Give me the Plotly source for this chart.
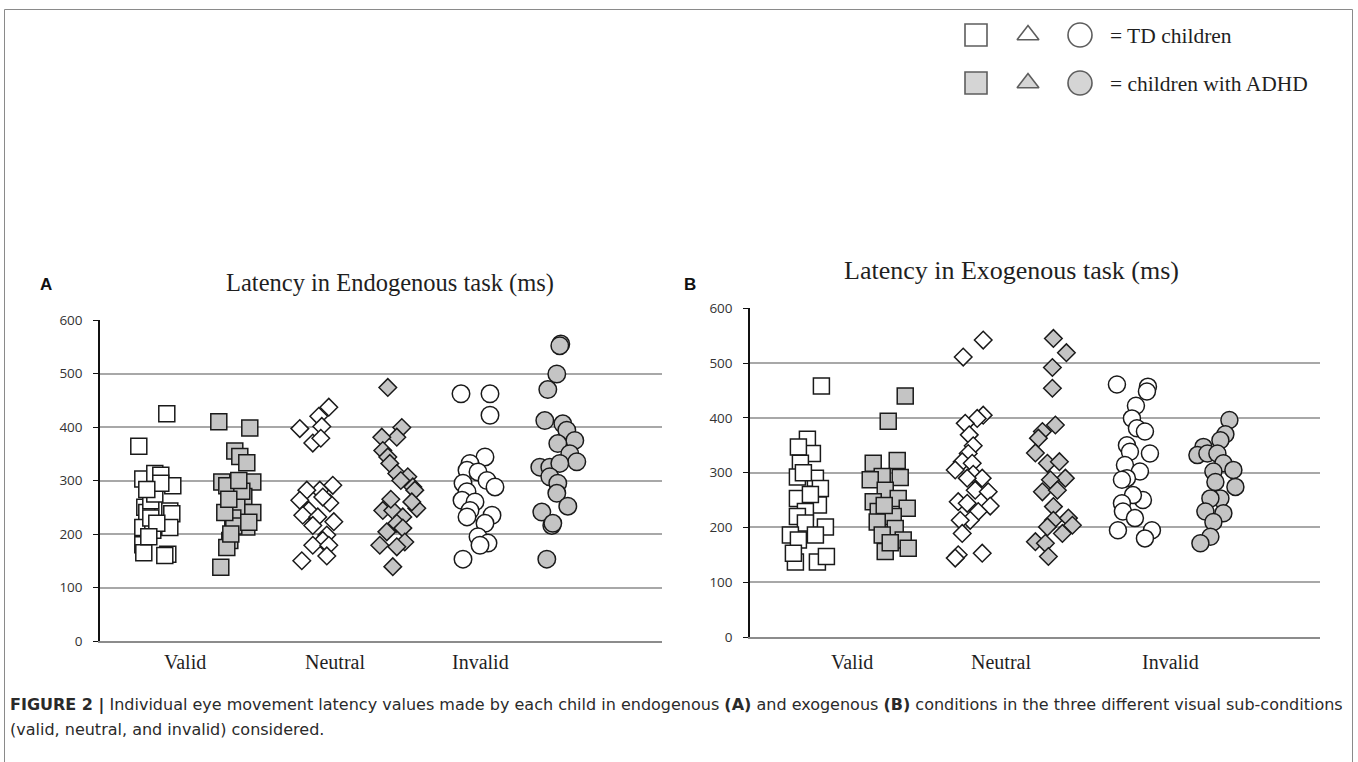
import plotly.graph_objects as go

# ---------------- DATA ----------------
CATEGORIES = ["Valid", "Neutral", "Invalid"]
GROUPS = ["TD children", "children with ADHD"]
Y_TICKS = [0, 100, 200, 300, 400, 500, 600]

# Panel A - Latency in Endogenous task (ms)
A_VALID_TD = [364, 425, 303, 313, 310, 290, 250, 240, 262, 243, 238, 212, 207, 212, 180, 165, 162, 160, 230, 275, 220, 195, 295, 283]
A_VALID_TD_JIT = [-18, 10, -14, -2, 4, 16, -12, -10, -6, 13, 15, -14, -4, 13, -14, -13, 11, 8, -6, -2, 0, -8, 4, -10]
A_VALID_ADHD = [410, 398, 355, 345, 333, 297, 297, 270, 290, 260, 250, 230, 240, 213, 188, 175, 138, 215, 240, 280, 200, 300, 265, 222]
A_VALID_ADHD_JIT = [-18, 13, -2, 3, 10, -15, 16, 7, -10, -6, 0, -4, 16, 10, -7, -10, -16, -3, -12, 5, -6, 2, -8, 12]
A_NEUTRAL_TD = [397, 420, 437, 401, 370, 379, 291, 282, 282, 263, 258, 269, 244, 235, 232, 223, 216, 198, 188, 179, 179, 159, 150]
A_NEUTRAL_TD_JIT = [-17, 2, 12, 5, -4, 4, 16, 3, -10, -17, 13, 6, -8, -14, 1, 17, -4, 10, 6, -4, 12, 10, -15]
A_NEUTRAL_ADHD = [474, 399, 381, 381, 356, 344, 332, 313, 307, 288, 282, 244, 244, 248, 260, 232, 220, 211, 204, 179, 185, 176, 139, 300, 265]
A_NEUTRAL_ADHD_JIT = [-5, 9, 4, -11, -10, -5, -3, 4, 15, 20, 22, -10, 0, 24, 19, 10, 4, 10, -6, -13, 12, 4, 0, 8, -2]
A_INVALID_TD = [462, 462, 422, 344, 332, 319, 316, 300, 288, 295, 279, 263, 260, 244, 235, 232, 220, 195, 183, 179, 153]
A_INVALID_TD_JIT = [-19, 10, 10, 5, -10, -13, -2, 7, 15, -17, -13, -18, -5, -10, 12, -13, 5, -2, 8, 0, -17]
A_INVALID_ADHD = [555, 552, 499, 470, 412, 406, 394, 375, 369, 350, 335, 325, 325, 332, 307, 295, 276, 252, 241, 216, 220, 153]
A_INVALID_ADHD_JIT = [4, 3, 0, -9, -12, 6, 10, 18, 1, 13, 20, -17, -7, 3, -7, 1, 0, 11, -15, -5, -4, -10]

# Panel B - Latency in Exogenous task (ms)
B_VALID_TD = [458, 361, 335, 347, 317, 292, 290, 271, 253, 241, 229, 220, 208, 201, 186, 177, 186, 137, 137, 147, 153, 300, 260]
B_VALID_TD_JIT = [14, 0, 5, -9, -7, -10, 8, 13, -10, 11, -2, -10, -2, 18, -17, -9, 8, -12, 10, 19, -14, -4, 3]
B_VALID_ADHD = [440, 394, 317, 322, 291, 293, 287, 268, 247, 253, 235, 229, 220, 210, 198, 186, 177, 156, 162, 172, 240]
B_VALID_ADHD_JIT = [15, -2, -17, 7, 10, -8, -20, -5, -17, 8, 17, -12, 3, -13, 5, -8, 13, -5, 18, 0, -6]
B_NEUTRAL_TD = [542, 511, 405, 399, 390, 369, 349, 335, 320, 317, 305, 297, 290, 290, 268, 265, 247, 244, 239, 229, 213, 213, 189, 150, 153, 144]
B_NEUTRAL_TD_JIT = [11, -9, 11, 5, -7, -3, 1, -4, -10, 0, -17, 1, 10, -5, 3, 16, -14, -5, 18, 6, -2, -12, -10, -14, 10, -17]
B_NEUTRAL_ADHD = [545, 519, 492, 454, 387, 375, 363, 336, 317, 320, 290, 287, 265, 268, 238, 213, 217, 204, 201, 189, 174, 171, 147]
B_NEUTRAL_ADHD_JIT = [0, 13, -1, -1, 2, -11, -15, -18, -6, 6, 12, -3, -11, 4, 0, 0, 15, 19, -6, 9, -18, -8, -5]
B_INVALID_TD = [461, 457, 448, 422, 399, 381, 375, 350, 338, 335, 314, 302, 290, 287, 250, 259, 244, 229, 217, 195, 195, 180]
B_INVALID_TD_JIT = [-16, 15, 14, 3, -1, 4, 12, -6, -3, 17, -8, 7, -6, -11, 10, 0, -11, -10, 2, -15, 19, 12]
B_INVALID_ADHD = [396, 370, 359, 347, 332, 335, 335, 317, 305, 302, 274, 283, 253, 253, 226, 229, 210, 183, 171]
B_INVALID_ADHD_JIT = [12, 8, 3, -14, -20, -10, 0, 6, 16, -4, 18, -2, 3, -7, 6, -12, -4, -7, -17]

# ---------------- LAYOUT / STYLE ----------------
W, H = 1358, 762


def px(x):
    return x / W


def py(y):
    return 1 - y / H


WHITE = "#ffffff"
GRAY = "#c4c4c4"
EDGE = "#1a1a1a"
SYMBOLS = ["square", "diamond", "circle"]

panels = [
    dict(
        name="A",
        xa="x", ya="y",
        xdom=(100, 662), ydom=(641, 320),
        slot=80.0,
        centers=[0.71, 1.71, 2.71, 3.66, 4.75, 5.71],
        labelpos=[1.06, 2.94, 4.76],
        sizes=[16, 13.5, 17.5],
        series=[
            (A_VALID_TD, A_VALID_TD_JIT), (A_VALID_ADHD, A_VALID_ADHD_JIT),
            (A_NEUTRAL_TD, A_NEUTRAL_TD_JIT), (A_NEUTRAL_ADHD, A_NEUTRAL_ADHD_JIT),
            (A_INVALID_TD, A_INVALID_TD_JIT), (A_INVALID_ADHD, A_INVALID_ADHD_JIT),
        ],
    ),
    dict(
        name="B",
        xa="x2", ya="y2",
        xdom=(750, 1320), ydom=(637, 308.3),
        slot=82.0,
        centers=[0.70, 1.71, 2.71, 3.70, 4.67, 5.70],
        labelpos=[1.24, 3.06, 5.13],
        sizes=[16, 13.5, 17],
        series=[
            (B_VALID_TD, B_VALID_TD_JIT), (B_VALID_ADHD, B_VALID_ADHD_JIT),
            (B_NEUTRAL_TD, B_NEUTRAL_TD_JIT), (B_NEUTRAL_ADHD, B_NEUTRAL_ADHD_JIT),
            (B_INVALID_TD, B_INVALID_TD_JIT), (B_INVALID_ADHD, B_INVALID_ADHD_JIT),
        ],
    ),
]

fig = go.Figure()
annotations = []
layout_axes = {}
serif = "Liberation Serif, Times New Roman, serif"

for p in panels:
    xrng = (p["xdom"][1] - p["xdom"][0]) / p["slot"]
    for i, (vals, jit) in enumerate(p["series"]):
        cat = i // 2
        grp = i % 2
        xs = [p["centers"][i] + j / p["slot"] for j in jit]
        fig.add_trace(go.Scatter(
            x=xs, y=vals, mode="markers", xaxis=p["xa"], yaxis=p["ya"],
            name=f"{CATEGORIES[cat]} - {GROUPS[grp]}", showlegend=False,
            marker=dict(symbol=SYMBOLS[cat], size=p["sizes"][cat],
                        color=WHITE if grp == 0 else GRAY,
                        line=dict(color=EDGE, width=1.5)),
            hoverinfo="x+y",
        ))
    xkey = "xaxis" if p["xa"] == "x" else "xaxis2"
    ykey = "yaxis" if p["ya"] == "y" else "yaxis2"
    layout_axes[xkey] = dict(
        domain=[px(p["xdom"][0]), px(p["xdom"][1])], range=[0, xrng],
        anchor=p["ya"], showgrid=False, zeroline=False, showticklabels=False,
        showline=True, linecolor="#8c8c8c", linewidth=1.5, ticks="",
        fixedrange=True, automargin=False,
    )
    layout_axes[ykey] = dict(
        domain=[py(p["ydom"][0]), py(p["ydom"][1])], range=[0, 600],
        anchor=p["xa"], tickvals=Y_TICKS, ticktext=[str(v) for v in Y_TICKS],
        showgrid=True, gridcolor="#a8a8a8", gridwidth=1.5, zeroline=False,
        showline=True, linecolor="#111111", linewidth=1.5,
        ticks="outside", ticklen=5, tickcolor="#111111", tickwidth=1,
        tickfont=dict(family="Open Sans, Lato, sans-serif", size=13.5, color="#333333"),
        ticklabelstandoff=8, fixedrange=True, automargin=False,
    )
    for k, lp in enumerate(p["labelpos"]):
        annotations.append(dict(
            x=lp, y=py(662), xref=p["xa"], yref="paper", text=CATEGORIES[k],
            showarrow=False, xanchor="center", yanchor="middle",
            font=dict(family=serif, size=20, color="#1f1f1f"),
        ))

# Legend symbols on an overlay axis spanning the figure
LEG_X = [976, 1028, 1080]
LEG_Y = [35, 83]
for r, fill in enumerate([WHITE, GRAY]):
    fig.add_trace(go.Scatter(
        x=[px(v) for v in LEG_X], y=[py(LEG_Y[r])] * 3, mode="markers",
        xaxis="x3", yaxis="y3", showlegend=False, hoverinfo="skip",
        marker=dict(symbol=["square", "triangle-up", "circle"], size=[22, 19, 24],
                    color=fill, line=dict(color=EDGE, width=1.6)),
    ))
layout_axes["xaxis3"] = dict(domain=[0, 1], range=[0, 1], visible=False, fixedrange=True,
                             anchor="y3", automargin=False)
layout_axes["yaxis3"] = dict(domain=[0, 1], range=[0, 1], visible=False, fixedrange=True,
                             anchor="x3", automargin=False)

cap_font = dict(family="DejaVu Sans, Liberation Sans, sans-serif", size=16.0, color="#2a2a2a")
annotations += [
    dict(x=px(1108), y=py(36), text="= " + GROUPS[0], xanchor="left", yanchor="middle",
         font=dict(family=serif, size=21.5, color="#1f1f1f")),
    dict(x=px(1108), y=py(84), text="= " + GROUPS[1], xanchor="left", yanchor="middle",
         font=dict(family=serif, size=21.5, color="#1f1f1f")),
    dict(x=px(390), y=py(283), text="Latency in Endogenous task (ms)", xanchor="center", yanchor="middle",
         font=dict(family=serif, size=24.5, color="#1f1f1f")),
    dict(x=px(1011), y=py(270), text="Latency in Exogenous task (ms)", xanchor="center", yanchor="middle",
         font=dict(family=serif, size=26, color="#1f1f1f")),
    dict(x=px(38), y=py(284), text="<b>A</b>", xanchor="left", yanchor="middle",
         font=dict(family="Liberation Sans, Arial, sans-serif", size=17, color="#111111")),
    dict(x=px(682), y=py(284), text="<b>B</b>", xanchor="left", yanchor="middle",
         font=dict(family="Liberation Sans, Arial, sans-serif", size=17, color="#111111")),
    dict(x=px(8), y=py(705), xanchor="left", yanchor="middle",
         text="<b>FIGURE 2 |</b> Individual eye movement latency values made by each child in endogenous <b>(A)</b> and exogenous <b>(B)</b> conditions in the three different visual sub-conditions",
         font=cap_font),
    dict(x=px(8), y=py(729), xanchor="left", yanchor="middle",
         text="(valid, neutral, and invalid) considered.",
         font=cap_font),
]
for a in annotations:
    a.setdefault("xref", "paper")
    a.setdefault("yref", "paper")
    a.setdefault("showarrow", False)

shapes = [
    dict(type="line", xref="paper", yref="paper", x0=px(4.5), x1=px(1352.5), y0=py(9.5), y1=py(9.5),
         line=dict(color="#8a8a8a", width=1)),
    dict(type="line", xref="paper", yref="paper", x0=px(4.5), x1=px(4.5), y0=py(9.5), y1=py(770),
         line=dict(color="#8a8a8a", width=1)),
    dict(type="line", xref="paper", yref="paper", x0=px(1352.5), x1=px(1352.5), y0=py(9.5), y1=py(770),
         line=dict(color="#8a8a8a", width=1)),
]

fig.update_layout(
    width=W, height=H, margin=dict(l=0, r=0, t=0, b=0, autoexpand=False),
    paper_bgcolor="white", plot_bgcolor="rgba(0,0,0,0)",
    annotations=annotations, shapes=shapes, showlegend=False,
    **layout_axes,
)

fig.write_html("out.html", config={"displayModeBar": False},
               post_script="document.body.style.margin='0px';document.body.style.padding='0px';")
